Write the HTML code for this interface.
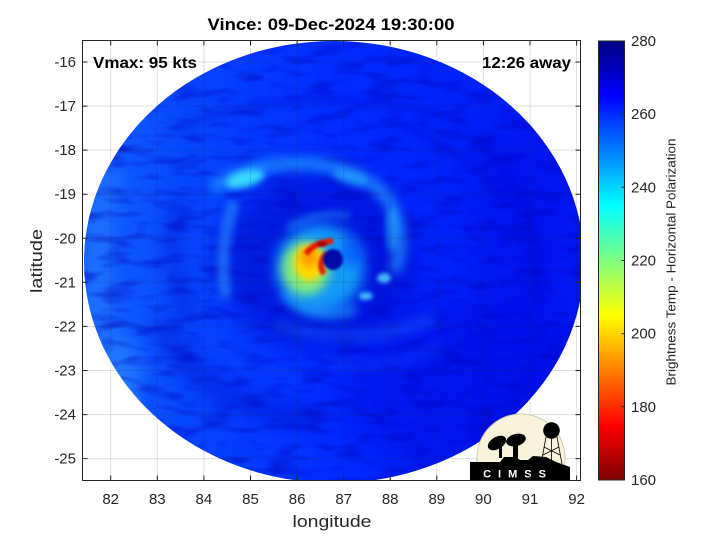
<!DOCTYPE html>
<html><head><meta charset="utf-8"><style>
html,body{margin:0;padding:0;background:#fff;}
svg{display:block;}
text{font-family:"Liberation Sans",sans-serif;fill:#262626;}
filter{color-interpolation-filters:sRGB;}
</style></head><body>
<svg xmlns="http://www.w3.org/2000/svg" width="720" height="540" viewBox="0 0 720 540">
<defs>
<clipPath id="ax"><rect x="82.5" y="40.5" width="498" height="440"/></clipPath>
<clipPath id="el"><ellipse cx="334" cy="262" rx="250" ry="221"/></clipPath>
<linearGradient id="bg" gradientUnits="userSpaceOnUse" x1="84" y1="0" x2="584" y2="0">
 <stop offset="0" stop-color="#1464ff"/>
 <stop offset="0.2" stop-color="#0646ff"/>
 <stop offset="0.5" stop-color="#002cff"/>
 <stop offset="1" stop-color="#0018f4"/>
</linearGradient>
<linearGradient id="cb" x1="0" y1="0" x2="0" y2="1">
 <stop offset="0" stop-color="#000080"/>
 <stop offset="0.125" stop-color="#0000ff"/>
 <stop offset="0.375" stop-color="#00ffff"/>
 <stop offset="0.625" stop-color="#ffff00"/>
 <stop offset="0.875" stop-color="#ff0000"/>
 <stop offset="1" stop-color="#800000"/>
</linearGradient>
<filter id="b1" color-interpolation-filters="sRGB" filterUnits="userSpaceOnUse" x="0" y="0" width="720" height="540"><feGaussianBlur stdDeviation="1.2"/></filter>
<filter id="b2" color-interpolation-filters="sRGB" filterUnits="userSpaceOnUse" x="0" y="0" width="720" height="540"><feGaussianBlur stdDeviation="2.2"/></filter>
<filter id="b3" color-interpolation-filters="sRGB" filterUnits="userSpaceOnUse" x="0" y="0" width="720" height="540"><feGaussianBlur stdDeviation="3.5"/></filter>
<filter id="b5" color-interpolation-filters="sRGB" filterUnits="userSpaceOnUse" x="0" y="0" width="720" height="540"><feGaussianBlur stdDeviation="5"/></filter>
<filter id="b7" color-interpolation-filters="sRGB" filterUnits="userSpaceOnUse" x="0" y="0" width="720" height="540"><feGaussianBlur stdDeviation="7"/></filter>
<filter id="b12" color-interpolation-filters="sRGB" filterUnits="userSpaceOnUse" x="0" y="0" width="720" height="540"><feGaussianBlur stdDeviation="12"/></filter>
<filter id="b20" color-interpolation-filters="sRGB" filterUnits="userSpaceOnUse" x="0" y="0" width="720" height="540"><feGaussianBlur stdDeviation="20"/></filter>
<filter id="tx" color-interpolation-filters="sRGB" filterUnits="userSpaceOnUse" x="0" y="0" width="720" height="540">
 <feTurbulence type="fractalNoise" baseFrequency="0.03 0.09" numOctaves="2" seed="7"/>
 <feColorMatrix type="matrix" values="0 0 0 0 0  0 0 0 0 0  0 0 0 0 0.72  1.3 0 0 0 -0.62"/>
</filter>
</defs>

<!-- image data -->
<g clip-path="url(#ax)">
<g clip-path="url(#el)">
 <rect x="80" y="38" width="505" height="445" fill="url(#bg)"/>
 <!-- lower-right darker -->
 <ellipse cx="470" cy="390" rx="130" ry="90" fill="#0000d8" opacity="0.4" filter="url(#b20)"/>
 <ellipse cx="520" cy="220" rx="50" ry="100" fill="#0000e0" opacity="0.3" filter="url(#b20)"/>
 <!-- lighter rim left / lower-left -->
 <path d="M112 170 Q80 280 125 400" fill="none" stroke="#2a80ff" stroke-width="26" stroke-opacity="0.45" filter="url(#b7)"/>
 <ellipse cx="122" cy="372" rx="22" ry="38" fill="#2a88ff" opacity="0.45" filter="url(#b7)"/>
 <!-- texture -->
 <rect x="80" y="38" width="505" height="445" filter="url(#tx)"/>
 <!-- outer dark streaks -->
 <path d="M170 130 Q320 72 470 125" fill="none" stroke="#0000c0" stroke-width="6" stroke-opacity="0.3" filter="url(#b3)"/>
 <path d="M390 120 Q470 150 500 200" fill="none" stroke="#0000b8" stroke-width="7" stroke-opacity="0.3" filter="url(#b3)"/>
 <path d="M475 140 Q545 200 535 300" fill="none" stroke="#0000c0" stroke-width="12" stroke-opacity="0.3" filter="url(#b5)"/>
 <path d="M160 320 Q200 410 320 420" fill="none" stroke="#0008c8" stroke-width="24" stroke-opacity="0.35" filter="url(#b7)"/>
 <path d="M178 200 Q165 270 190 320" fill="none" stroke="#0008c8" stroke-width="18" stroke-opacity="0.3" filter="url(#b7)"/>
 <!-- dark moat around core -->
 <ellipse cx="318" cy="262" rx="100" ry="88" fill="#0006cc" opacity="0.55" filter="url(#b12)"/>
 <!-- bottom light arcs -->
 <path d="M275 325 Q360 350 435 318" fill="none" stroke="#1a60ff" stroke-width="12" stroke-opacity="0.45" filter="url(#b5)"/>
 <path d="M330 362 Q390 372 440 346" fill="none" stroke="#1a56ff" stroke-width="10" stroke-opacity="0.3" filter="url(#b5)"/>
 <!-- light band west -->
 <path d="M234 202 Q218 250 226 298" fill="none" stroke="#2890ff" stroke-width="12" stroke-opacity="0.6" filter="url(#b3)"/>
 <!-- outer cyan spiral band -->
 <path d="M212 188 Q255 160 310 164 Q372 168 394 210 Q406 245 394 272" fill="none" stroke="#28b0ff" stroke-width="13" stroke-opacity="0.6" filter="url(#b5)"/>
 <ellipse cx="245" cy="179" rx="20" ry="8" fill="#40f0ff" opacity="0.85" transform="rotate(-15 245 179)" filter="url(#b3)"/>
 <ellipse cx="350" cy="178" rx="18" ry="6" fill="#30d0ff" opacity="0.5" transform="rotate(15 350 178)" filter="url(#b3)"/>
 <ellipse cx="392" cy="230" rx="6" ry="22" fill="#30c8ff" opacity="0.5" filter="url(#b3)"/>
 <ellipse cx="384" cy="278" rx="7" ry="5" fill="#50d8ff" opacity="0.85" filter="url(#b2)"/>
 <ellipse cx="366" cy="296" rx="7" ry="4" fill="#50d8ff" opacity="0.85" filter="url(#b2)"/>
 <!-- inner band above eyewall -->
 <path d="M288 228 Q318 210 350 216" fill="none" stroke="#2088ff" stroke-width="8" stroke-opacity="0.5" filter="url(#b3)"/>
 <!-- eyewall halo -->
 <ellipse cx="320" cy="268" rx="44" ry="44" fill="#18c8ff" opacity="0.75" filter="url(#b7)"/>
 <path d="M284 292 Q310 322 356 310" fill="none" stroke="#28c0ff" stroke-width="10" stroke-opacity="0.55" filter="url(#b5)"/>
 <ellipse cx="352" cy="252" rx="12" ry="14" fill="#0848ff" opacity="0.6" filter="url(#b5)"/>
 <!-- warm core -->
 <ellipse cx="306" cy="268" rx="24" ry="27" fill="#a0ff60" opacity="0.8" filter="url(#b5)"/>
 <ellipse cx="309" cy="263" rx="15" ry="18" fill="#ffd800" filter="url(#b3)"/>
 <ellipse cx="309" cy="257" rx="9" ry="10" fill="#ff9400" opacity="0.85" filter="url(#b3)"/>
 <path d="M306 254 Q314 242 333 241" fill="none" stroke="#e81c00" stroke-width="6" filter="url(#b1)"/>
 <ellipse cx="322" cy="244" rx="5" ry="2.5" fill="#a00000" filter="url(#b1)"/>
 <path d="M327 253 Q317 263 324 274" fill="none" stroke="#e02400" stroke-width="6" filter="url(#b1)"/>
 <!-- eye -->
 <ellipse cx="333" cy="259.5" rx="10" ry="10.5" fill="#000aa8" filter="url(#b1)"/>
</g>
</g>

<!-- grid -->
<g stroke="#262626" stroke-opacity="0.15" stroke-width="1">
 <line x1="110.7" y1="40.5" x2="110.7" y2="480.5"/>
 <line x1="157.3" y1="40.5" x2="157.3" y2="480.5"/>
 <line x1="203.9" y1="40.5" x2="203.9" y2="480.5"/>
 <line x1="250.5" y1="40.5" x2="250.5" y2="480.5"/>
 <line x1="297.1" y1="40.5" x2="297.1" y2="480.5"/>
 <line x1="343.7" y1="40.5" x2="343.7" y2="480.5"/>
 <line x1="390.2" y1="40.5" x2="390.2" y2="480.5"/>
 <line x1="436.8" y1="40.5" x2="436.8" y2="480.5"/>
 <line x1="483.4" y1="40.5" x2="483.4" y2="480.5"/>
 <line x1="530" y1="40.5" x2="530" y2="480.5"/>
 <line x1="576.6" y1="40.5" x2="576.6" y2="480.5"/>
 <line x1="82.5" y1="62" x2="580.5" y2="62"/>
 <line x1="82.5" y1="106.1" x2="580.5" y2="106.1"/>
 <line x1="82.5" y1="150.1" x2="580.5" y2="150.1"/>
 <line x1="82.5" y1="194.2" x2="580.5" y2="194.2"/>
 <line x1="82.5" y1="238.3" x2="580.5" y2="238.3"/>
 <line x1="82.5" y1="282.3" x2="580.5" y2="282.3"/>
 <line x1="82.5" y1="326.4" x2="580.5" y2="326.4"/>
 <line x1="82.5" y1="370.5" x2="580.5" y2="370.5"/>
 <line x1="82.5" y1="414.6" x2="580.5" y2="414.6"/>
 <line x1="82.5" y1="458.6" x2="580.5" y2="458.6"/>
</g>

<!-- CIMSS logo -->
<g clip-path="url(#ax)">
 <circle cx="521" cy="458" r="44" fill="#faf3dc" stroke="#cfc7b0" stroke-width="1"/>
 <g stroke="#000" stroke-width="0.8" fill="none">
  <line x1="546" y1="437" x2="541" y2="464"/>
  <line x1="557" y1="437" x2="562" y2="464"/>
  <line x1="551.5" y1="437" x2="551.5" y2="464"/>
  <line x1="544" y1="447" x2="560" y2="455"/>
  <line x1="559" y1="447" x2="543" y2="455"/>
 </g>
 <circle cx="551.5" cy="430.5" r="8.3" fill="#000"/>
 <ellipse cx="497" cy="443" rx="10" ry="6" fill="#000" transform="rotate(-30 497 443)"/>
 <ellipse cx="516" cy="440" rx="10" ry="6" fill="#000" transform="rotate(-15 516 440)"/>
 <rect x="499" y="446" width="3" height="12" fill="#000"/>
 <rect x="513" y="444" width="5" height="14" fill="#000"/>
 <polygon points="470,481 470,462 500,462 504,457 516,457 520,460 528,460 533,456 546,457 556,462 570,467 570,481" fill="#000"/>
 <text x="518" y="477.5" text-anchor="middle" style="fill:#fff;font-weight:bold;font-size:11px;letter-spacing:7px">CIMSS</text>
</g>

<!-- axes box and ticks -->
<rect x="82.5" y="40.5" width="498" height="440" fill="none" stroke="#262626" stroke-width="1"/>
<g stroke="#262626" stroke-width="1">
 <path d="M110.7 480.5v-5M157.3 480.5v-5M203.9 480.5v-5M250.5 480.5v-5M297.1 480.5v-5M343.7 480.5v-5M390.2 480.5v-5M436.8 480.5v-5M483.4 480.5v-5M530 480.5v-5M576.6 480.5v-5"/>
 <path d="M110.7 40.5v5M157.3 40.5v5M203.9 40.5v5M250.5 40.5v5M297.1 40.5v5M343.7 40.5v5M390.2 40.5v5M436.8 40.5v5M483.4 40.5v5M530 40.5v5M576.6 40.5v5"/>
 <path d="M82.5 62h5M82.5 106.1h5M82.5 150.1h5M82.5 194.2h5M82.5 238.3h5M82.5 282.3h5M82.5 326.4h5M82.5 370.5h5M82.5 414.6h5M82.5 458.6h5"/>
 <path d="M580.5 62h-5M580.5 106.1h-5M580.5 150.1h-5M580.5 194.2h-5M580.5 238.3h-5M580.5 282.3h-5M580.5 326.4h-5M580.5 370.5h-5M580.5 414.6h-5M580.5 458.6h-5"/>
</g>

<!-- tick labels -->
<g font-size="15" text-anchor="end">
 <text x="76" y="67">-16</text>
 <text x="76" y="111.1">-17</text>
 <text x="76" y="155.1">-18</text>
 <text x="76" y="199.2">-19</text>
 <text x="76" y="243.3">-20</text>
 <text x="76" y="287.3">-21</text>
 <text x="76" y="331.4">-22</text>
 <text x="76" y="375.5">-23</text>
 <text x="76" y="419.6">-24</text>
 <text x="76" y="463.6">-25</text>
</g>
<g font-size="15" text-anchor="middle">
 <text x="110.7" y="504">82</text>
 <text x="157.3" y="504">83</text>
 <text x="203.9" y="504">84</text>
 <text x="250.5" y="504">85</text>
 <text x="297.1" y="504">86</text>
 <text x="343.7" y="504">87</text>
 <text x="390.2" y="504">88</text>
 <text x="436.8" y="504">89</text>
 <text x="483.4" y="504">90</text>
 <text x="530" y="504">91</text>
 <text x="576.6" y="504">92</text>
</g>

<text x="332" y="527" font-size="17" text-anchor="middle" textLength="79" lengthAdjust="spacingAndGlyphs">longitude</text>
<text transform="translate(42 261) rotate(-90)" font-size="17" text-anchor="middle" textLength="64" lengthAdjust="spacingAndGlyphs">latitude</text>

<text x="331" y="30" font-size="16.5" font-weight="bold" text-anchor="middle" textLength="247" lengthAdjust="spacingAndGlyphs" style="fill:#000">Vince: 09-Dec-2024 19:30:00</text>
<text x="93" y="68" font-size="16" font-weight="bold" textLength="104" lengthAdjust="spacingAndGlyphs" style="fill:#000">Vmax: 95 kts</text>
<text x="571" y="68" font-size="16" font-weight="bold" text-anchor="end" textLength="89" lengthAdjust="spacingAndGlyphs" style="fill:#000">12:26 away</text>

<!-- colorbar -->
<rect x="598.5" y="41" width="26" height="439" fill="url(#cb)" stroke="#262626" stroke-width="1"/>
<g stroke="#262626" stroke-width="1">
 <path d="M624.5 114.2h-3M624.5 187.3h-3M624.5 260.5h-3M624.5 333.7h-3M624.5 406.8h-3"/>
</g>
<g font-size="15">
 <text x="631" y="46">280</text>
 <text x="631" y="119.2">260</text>
 <text x="631" y="192.3">240</text>
 <text x="631" y="265.5">220</text>
 <text x="631" y="338.7">200</text>
 <text x="631" y="411.8">180</text>
 <text x="631" y="485">160</text>
</g>
<text transform="translate(675.5 262) rotate(-90)" font-size="12.5" text-anchor="middle" textLength="247" lengthAdjust="spacingAndGlyphs">Brightness Temp - Horizontal Polarization</text>
</svg>
</body></html>
